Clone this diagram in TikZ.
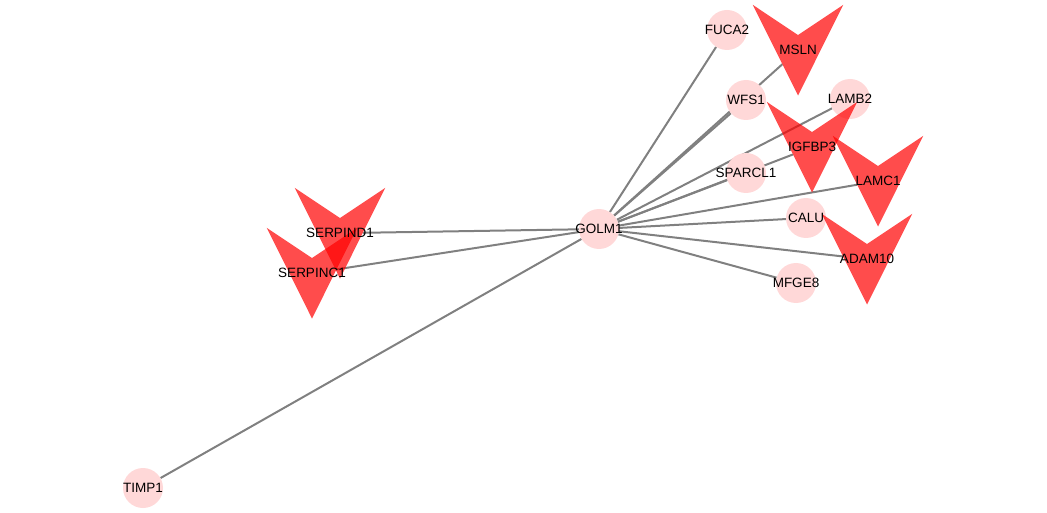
\documentclass[tikz,border=0pt]{standalone}
\usepackage{fontspec}
\setmainfont{Liberation Sans}
\usetikzlibrary{shapes.geometric,calc,intersections}
\pgfdeclarelayer{edges}
\pgfdeclarelayer{fills}
\pgfsetlayers{edges,fills,main}
\definecolor{edgegray}{RGB}{128,128,128}
\definecolor{genepink}{RGB}{255,216,216}
\definecolor{genered}{RGB}{255,0,0}
\begin{document}
\begin{tikzpicture}[x=1pt,y=-1pt,font=\fontsize{13.5}{15}\selectfont,
  circ/.style={circle,minimum size=40pt,inner sep=0pt},
  vee/.style={isosceles triangle,isosceles triangle stretches,shape border rotate=270,
    minimum width=90pt,minimum height=90pt,inner sep=0pt,yshift=17.2pt},
  link/.style={draw=edgegray,line width=2pt}]
\useasboundingbox (0,0) rectangle (1047,513);
\path
(599,229) node[circ] (GOLM1) {}
(727,30) node[circ] (FUCA2) {}
(746,100) node[circ] (WFS1) {}
(850,99) node[circ] (LAMB2) {}
(746,173) node[circ] (SPARCL1) {}
(806,218) node[circ] (CALU) {}
(796,283) node[circ] (MFGE8) {}
(143,488) node[circ] (TIMP1) {}
(798,50) node[vee] (MSLN) {}
(812,147) node[vee] (IGFBP3) {}
(878,181) node[vee] (LAMC1) {}
(867,259) node[vee] (ADAM10) {}
(340,233) node[vee] (SERPIND1) {}
(312,273) node[vee] (SERPINC1) {}
;
% notch and middle of each V
\foreach \x in {MSLN,IGFBP3,LAMC1,ADAM10,SERPIND1,SERPINC1}{
  \coordinate (\x-top) at ($(\x.left corner)!.5!(\x.right corner)$);
  \coordinate (\x-n) at ($(\x-top)!1/3!(\x.apex)$);
  \coordinate (\x-m) at ($(\x-top)!.5!(\x.apex)$);
}
% gene names
\foreach \x in {GOLM1,FUCA2,WFS1,LAMB2,SPARCL1,CALU,MFGE8,TIMP1}
\node (\x-t) at (\x) {\x};
\foreach \x in {MSLN,IGFBP3,LAMC1,ADAM10,SERPIND1,SERPINC1}
\node (\x-t) at (\x-m) {\x};
\begin{pgfonlayer}{edges}
\foreach \x in {FUCA2,WFS1,LAMB2,SPARCL1,CALU,MFGE8,TIMP1}
\draw[link] (GOLM1) -- (\x);
\foreach \x in {MSLN,IGFBP3,LAMC1,ADAM10,SERPIND1,SERPINC1}{
  \path[name path=vshape] (\x.left corner) -- (\x-n) -- (\x.right corner) -- (\x.apex) -- cycle;
  \path[name path=ray] (GOLM1) -- (\x-m);
  \draw[link,name intersections={of=ray and vshape,by=end,sort by=ray}] (GOLM1) -- (end);
}
\end{pgfonlayer}
\begin{pgfonlayer}{fills}
\foreach \x in {GOLM1,FUCA2,WFS1,LAMB2,SPARCL1,CALU,MFGE8,TIMP1}
\fill[genepink] (\x) circle (20pt);
\foreach \x in {MSLN,IGFBP3,LAMC1,ADAM10,SERPIND1,SERPINC1}
\fill[genered,fill opacity=0.7] (\x.left corner) -- (\x-n) -- (\x.right corner) -- (\x.apex) -- cycle;
\end{pgfonlayer}
\end{tikzpicture}
\end{document}
